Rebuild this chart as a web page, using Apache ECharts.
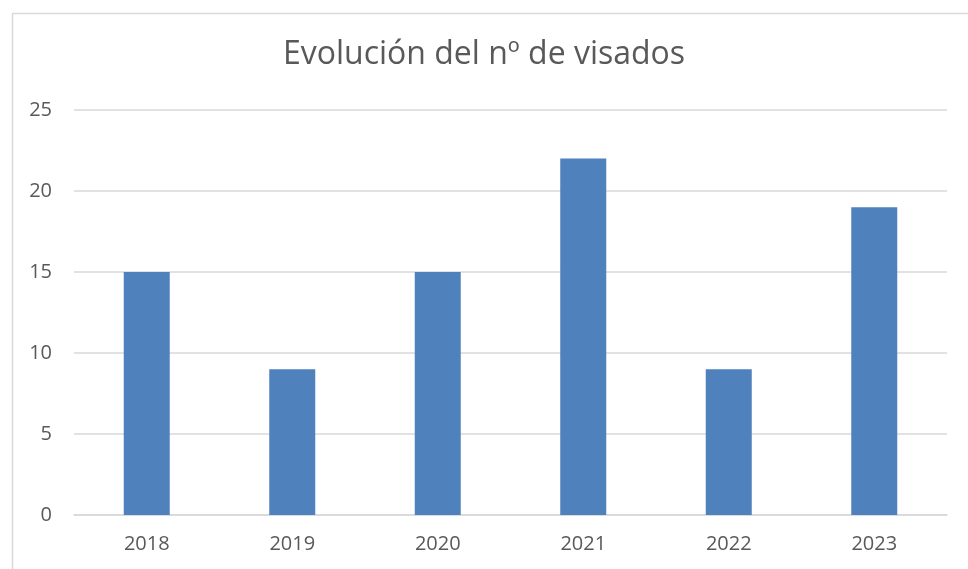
<!DOCTYPE html>
<html>
<head>
<meta charset="utf-8">
<script src="https://cdn.jsdelivr.net/npm/echarts@6/dist/echarts.min.js"></script>
<style>html,body{margin:0;padding:0;background:#fff;}#c{width:968px;height:569px;}</style>
</head>
<body>
<div id="c"></div>
<script>
var categories = ['2018', '2019', '2020', '2021', '2022', '2023'];
var visados = [15, 9, 15, 22, 9, 19];
var yTicks = [0, 5, 10, 15, 20, 25];

var chart = echarts.init(document.getElementById('c'));
chart.setOption({
  animation: false,
  backgroundColor: '#ffffff',
  graphic: [{
    type: 'rect',
    left: 10, top: 11,
    shape: { width: 1000, height: 600 },
    style: { fill: 'none', stroke: '#d9d9d9', lineWidth: 1.5 },
    silent: true
  }],
  title: {
    text: 'Evolución del nº de visados',
    left: 'center',
    top: 34,
    textStyle: { fontFamily: 'Open Sans', fontSize: 32, fontWeight: 'normal', color: '#595959' }
  },
  grid: { left: 74, right: 21, top: 110, bottom: 54 },
  xAxis: {
    type: 'category',
    data: categories,
    axisLine: { lineStyle: { color: '#d9d9d9', width: 1.5 } },
    axisTick: { show: false },
    axisLabel: { color: '#595959', fontSize: 20, fontFamily: 'Open Sans', margin: 19 }
  },
  yAxis: {
    type: 'value',
    min: yTicks[0],
    max: yTicks[yTicks.length - 1],
    interval: 5,
    axisLine: { show: false },
    axisTick: { show: false },
    splitLine: { lineStyle: { color: '#d9d9d9', width: 1.5 } },
    axisLabel: { color: '#595959', fontSize: 20, fontFamily: 'Open Sans', margin: 22 }
  },
  series: [{
    type: 'bar',
    data: visados,
    barWidth: 46,
    itemStyle: { color: '#4f81bd' }
  }]
});
</script>
</body>
</html>
